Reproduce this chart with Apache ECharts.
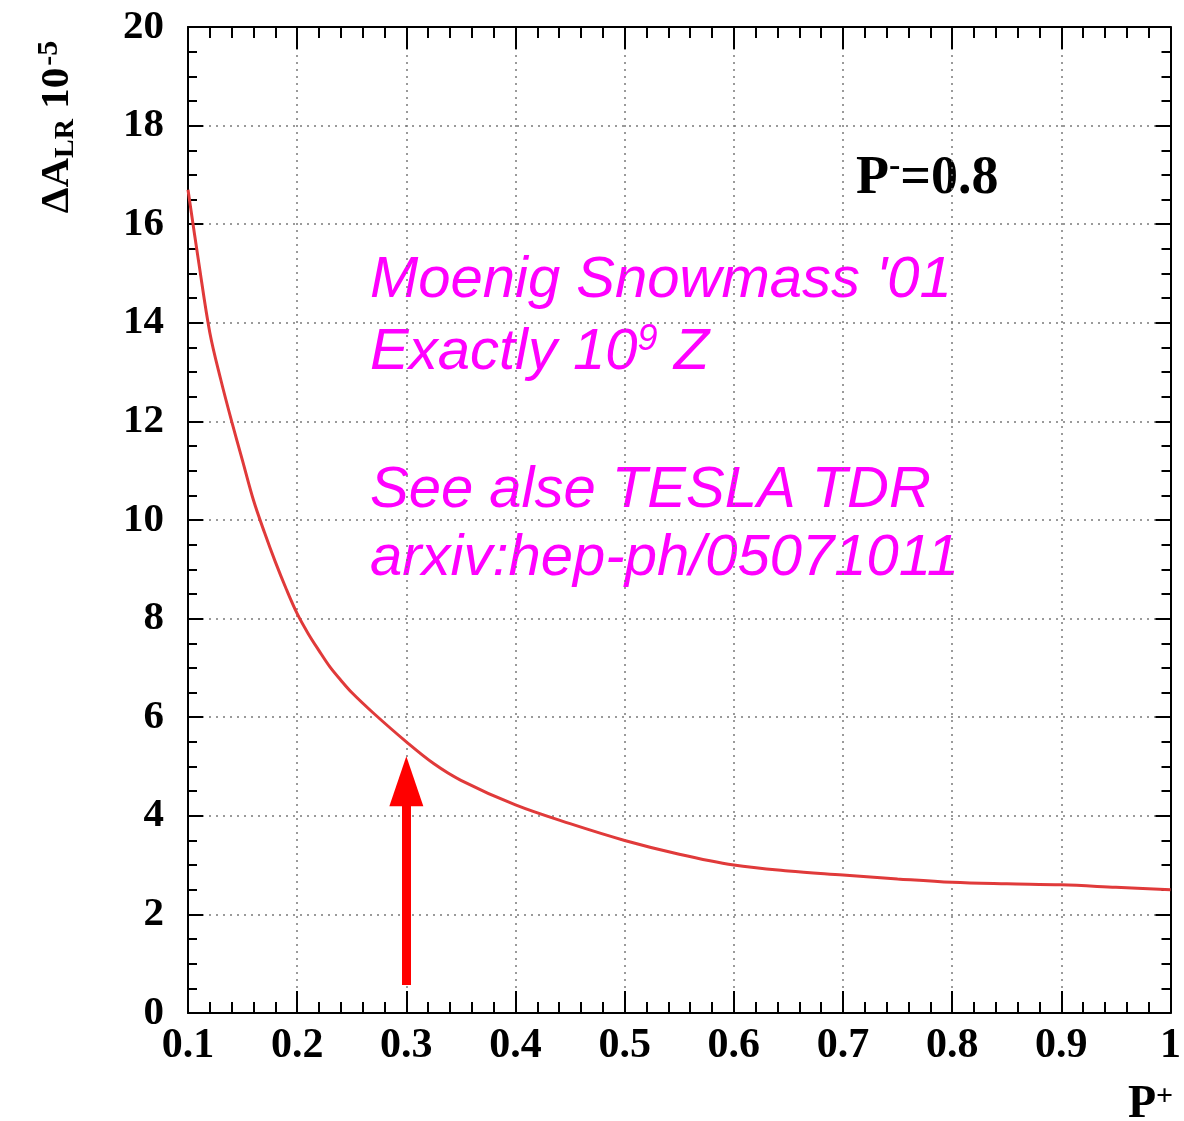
<!DOCTYPE html>
<html>
<head>
<meta charset="utf-8">
<script src="https://cdn.jsdelivr.net/npm/echarts@6/dist/echarts.min.js"></script>
<style>html,body{margin:0;padding:0;background:#fff}#c{width:1184px;height:1121px}</style>
</head>
<body>
<div id="c"></div>
<script>
// P+ values and Delta A_LR (units of 1e-5)
const pPlus = [0.10, 0.11, 0.12, 0.13, 0.14, 0.15, 0.16, 0.17, 0.18, 0.19, 0.20, 0.21, 0.22, 0.23, 0.24, 0.25, 0.27, 0.30, 0.325, 0.35, 0.40, 0.45, 0.50, 0.55, 0.60, 0.65, 0.70, 0.75, 0.80, 0.85, 0.90, 0.95, 1.00];
const deltaALR = [16.7, 15.2, 13.8, 12.85, 12.0, 11.2, 10.4, 9.75, 9.15, 8.6, 8.1, 7.7, 7.35, 7.02, 6.75, 6.5, 6.08, 5.5, 5.06, 4.72, 4.22, 3.84, 3.5, 3.22, 3.0, 2.88, 2.8, 2.72, 2.65, 2.62, 2.6, 2.55, 2.5];
const xTicks = [0.1, 0.2, 0.3, 0.4, 0.5, 0.6, 0.7, 0.8, 0.9, 1];
const yTicks = [0, 2, 4, 6, 8, 10, 12, 14, 16, 18, 20];
const arrowFrom = [0.3, 0.57];
const arrowTo = [0.3, 4.7];

const chart = echarts.init(document.getElementById('c'));
const serif = 'Liberation Serif';
const gridLine = {show: true, lineStyle: {color: '#7a7a7a', width: 1.5, type: [2, 5]}};
const axisLine = {show: true, onZero: false, lineStyle: {color: '#000', width: 2}};

const option = {
  backgroundColor: '#fff',
  animation: false,
  grid: {left: 188, right: 9, top: 27, bottom: 108},
  xAxis: [{
    type: 'value', min: 0.1, max: 1, interval: 0.1,
    axisLine: axisLine,
    axisTick: {show: true, inside: true, length: 22, lineStyle: {color: '#000', width: 2}},
    minorTick: {show: true, splitNumber: 5, length: 11, lineStyle: {color: '#000', width: 2}},
    splitLine: gridLine,
    axisLabel: {
      margin: 12, color: '#000', fontFamily: serif, fontWeight: 'bold', fontSize: 42,
      formatter: v => { const t = xTicks.find(k => Math.abs(k - v) < 1e-6); return t === undefined ? '' : String(t); }
    }
  }, {
    type: 'value', position: 'top', min: 0.1, max: 1, interval: 0.1,
    axisLine: axisLine,
    axisTick: {show: true, inside: true, length: 22, lineStyle: {color: '#000', width: 2}},
    minorTick: {show: true, splitNumber: 5, length: 11, lineStyle: {color: '#000', width: 2}},
    splitLine: {show: false}, axisLabel: {show: false}
  }],
  yAxis: [{
    type: 'value', min: 0, max: 20, interval: 2,
    axisLine: axisLine,
    axisTick: {show: true, inside: true, length: 15, lineStyle: {color: '#000', width: 2}},
    minorTick: {show: true, splitNumber: 4, length: 9, lineStyle: {color: '#000', width: 2}},
    splitLine: gridLine,
    axisLabel: {
      margin: 24, color: '#000', fontFamily: serif, fontWeight: 'bold', fontSize: 41,
      formatter: v => { const t = yTicks.find(k => Math.abs(k - v) < 1e-6); return t === undefined ? '' : String(t); }
    }
  }, {
    type: 'value', position: 'right', min: 0, max: 20, interval: 2,
    axisLine: axisLine,
    axisTick: {show: true, inside: true, length: 15, lineStyle: {color: '#000', width: 2}},
    minorTick: {show: true, splitNumber: 4, length: 9, lineStyle: {color: '#000', width: 2}},
    splitLine: {show: false}, axisLabel: {show: false}
  }],
  series: [{
    type: 'line',
    data: pPlus.map((x, i) => [x, deltaALR[i]]),
    smooth: 0.35,
    symbol: 'none',
    lineStyle: {color: '#e03a3a', width: 3},
    z: 5,
    markLine: {
      silent: true,
      symbol: ['none', 'triangle'],
      symbolSize: [34, 50],
      label: {show: false},
      lineStyle: {color: '#ff0000', width: 9, type: 'solid'},
      data: [[{coord: arrowFrom}, {coord: arrowTo}]]
    }
  }],
  graphic: [
    {
      type: 'text', x: 57, y: 127, rotation: Math.PI / 2,
      style: {
        text: '{a|ΔA}{s|LR}{a| 10}{p|-5}',
        align: 'center', verticalAlign: 'middle',
        rich: {
          a: {fontFamily: serif, fontWeight: 'bold', fontSize: 41, fill: '#000', verticalAlign: 'middle'},
          s: {fontFamily: serif, fontWeight: 'bold', fontSize: 28, fill: '#000', verticalAlign: 'bottom', padding: [16, 0, 0, 0]},
          p: {fontFamily: serif, fontWeight: 'bold', fontSize: 30, fill: '#000', verticalAlign: 'top', padding: [0, 0, 16, 2]}
        }
      }
    },
    {
      type: 'text', x: 1128, y: 1082,
      style: {
        text: '{a|P}{p|+}',
        rich: {
          a: {fontFamily: serif, fontWeight: 'bold', fontSize: 46, fill: '#000', verticalAlign: 'bottom'},
          p: {fontFamily: serif, fontWeight: 'bold', fontSize: 30, fill: '#000', verticalAlign: 'top', padding: [0, 0, 16, 0]}
        }
      }
    },
    {
      type: 'text', x: 856, y: 150,
      style: {
        text: '{a|P}{p|-}{a|=0.8}',
        rich: {
          a: {fontFamily: serif, fontWeight: 'bold', fontSize: 54, fill: '#000', verticalAlign: 'bottom'},
          p: {fontFamily: serif, fontWeight: 'bold', fontSize: 34, fill: '#000', verticalAlign: 'top', padding: [0, 0, 22, 0]}
        }
      }
    },
    {
      type: 'text', x: 370, y: 252,
      style: {text: "Moenig Snowmass '01", fontFamily: 'Liberation Sans', fontStyle: 'italic', fontSize: 58, fill: '#ff00ff'}
    },
    {
      type: 'text', x: 370, y: 322,
      style: {
        text: '{a|Exactly 10}{p|9}{a| Z}',
        rich: {
          a: {fontFamily: 'Liberation Sans', fontStyle: 'italic', fontSize: 58, fill: '#ff00ff', verticalAlign: 'bottom'},
          p: {fontFamily: 'Liberation Sans', fontStyle: 'italic', fontSize: 36, fill: '#ff00ff', verticalAlign: 'top', padding: [0, 0, 24, 0]}
        }
      }
    },
    {
      type: 'text', x: 370, y: 462,
      style: {text: 'See alse TESLA TDR', fontFamily: 'Liberation Sans', fontStyle: 'italic', fontSize: 58, fill: '#ff00ff'}
    },
    {
      type: 'text', x: 370, y: 530,
      style: {text: 'arxiv:hep-ph/05071011', fontFamily: 'Liberation Sans', fontStyle: 'italic', fontSize: 58, fill: '#ff00ff'}
    }
  ]
};
chart.setOption(option);
</script>
</body>
</html>
